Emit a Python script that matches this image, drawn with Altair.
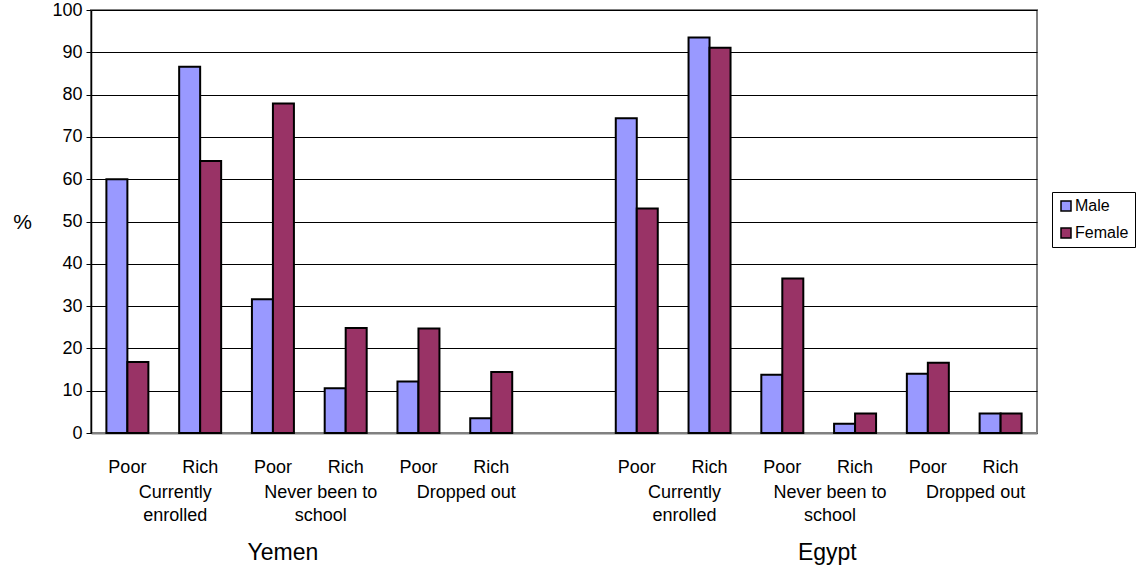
import altair as alt
import pandas as pd

countries = ["Yemen", "Egypt"]
groups = ["Currently enrolled", "Never been to school", "Dropped out"]
group_text = ["Currently\nenrolled", "Never been to\nschool", "Dropped out"]
wealth = ["Poor", "Rich"]
sexes = ["Male", "Female"]

male_yemen = [60.0, 86.6, 31.6, 10.6, 12.2, 3.5]
female_yemen = [16.8, 64.3, 77.9, 24.8, 24.7, 14.4]
male_egypt = [74.4, 93.5, 13.8, 2.2, 14.0, 4.6]
female_egypt = [53.1, 91.1, 36.5, 4.6, 16.6, 4.6]

values = {
    ("Yemen", "Male"): male_yemen,
    ("Yemen", "Female"): female_yemen,
    ("Egypt", "Male"): male_egypt,
    ("Egypt", "Female"): female_egypt,
}

slots = []
for ci, c in enumerate(countries):
    for g in groups:
        for w in wealth:
            slots.append(f"{c}|{g}|{w}")
    if ci == 0:
        slots.append("gap||")

rows = []
for c in countries:
    i = 0
    for g in groups:
        for w in wealth:
            for s in sexes:
                rows.append({"slot": f"{c}|{g}|{w}", "sex": s, "value": values[(c, s)][i]})
            i += 1
df = pd.DataFrame(rows)

grp_rows = []
for c in countries:
    for g, t in zip(groups, group_text):
        grp_rows.append({"slot": f"{c}|{g}|Rich", "text": t})
grp_df = pd.DataFrame(grp_rows)

FONT = "Liberation Sans"
W, H = 946, 423

xscale = alt.Scale(domain=slots, paddingInner=0.423, paddingOuter=0.2115)

bars = alt.Chart(df).mark_bar(stroke="black", strokeWidth=2).encode(
    x=alt.X("slot:N", scale=xscale, title=None,
            axis=alt.Axis(labelExpr="split(datum.label, '|')[2]", labelAngle=0,
                          ticks=False, tickSize=0, labelPadding=25, labelFontSize=18,
                          labelColor="black", labelFont=FONT, labelBaseline="top",
                          domainColor="#808080", domainWidth=2, grid=False)),
    xOffset=alt.XOffset("sex:N", sort=sexes, scale=alt.Scale(paddingInner=0, paddingOuter=0)),
    y=alt.Y("value:Q", scale=alt.Scale(domain=[0, 100], nice=False),
            axis=alt.Axis(values=list(range(0, 101, 10)), title="%", titleAngle=0,
                          titleX=-69, titleY=212, titleAlign="center", titleBaseline="middle",
                          titleFontSize=21, titleFontWeight="normal", titleFont=FONT,
                          titleColor="black",
                          labelFontSize=18, labelFont=FONT, labelColor="black",
                          tickSize=5, tickColor="black", labelPadding=4,
                          domainColor="black", domainWidth=1.5,
                          gridColor="black", gridWidth=1, gridOpacity=1)),
    color=alt.Color("sex:N", sort=sexes,
                    scale=alt.Scale(domain=sexes, range=["#9999FF", "#993366"]),
                    legend=alt.Legend(title=None, orient="none", legendX=961, legendY=182,
                                      symbolType="square", symbolSize=100,
                                      symbolStrokeColor="black", symbolStrokeWidth=1.5,
                                      labelFontSize=16, labelFont=FONT, labelColor="black",
                                      strokeColor="black", padding=6, rowPadding=11,
                                      labelOffset=1, fillColor="white")),
)

grp_labels = alt.Chart(grp_df).mark_text(
    dx=-25, fontSize=18, font=FONT, color="black", lineBreak="\n",
    lineHeight=23, baseline="alphabetic", align="center"
).encode(
    x=alt.X("slot:N", scale=xscale),
    y=alt.value(488),
    text="text:N",
)

yemen_lbl = alt.Chart(pd.DataFrame({"slot": [f"Yemen|{groups[1]}|Poor"], "text": ["Yemen"]})).mark_text(
    dx=10, fontSize=23, font=FONT, color="black", baseline="alphabetic"
).encode(x=alt.X("slot:N", scale=xscale), y=alt.value(550), text="text:N")

egypt_lbl = alt.Chart(pd.DataFrame({"slot": [f"Egypt|{groups[1]}|Poor"], "text": ["Egypt"]})).mark_text(
    dx=45, fontSize=23, font=FONT, color="black", baseline="alphabetic"
).encode(x=alt.X("slot:N", scale=xscale), y=alt.value(550), text="text:N")

chart = alt.layer(bars, grp_labels, yemen_lbl, egypt_lbl).properties(
    width=W, height=H,
    autosize=alt.AutoSizeParams(type="none"),
    padding={"left": 91, "top": 10, "right": 1136 - 91 - W, "bottom": 567 - 10 - H},
    background="white",
).configure_view(stroke="#808080", strokeWidth=2)

chart.save("out.html", embed_options={"renderer": "svg", "actions": False})
